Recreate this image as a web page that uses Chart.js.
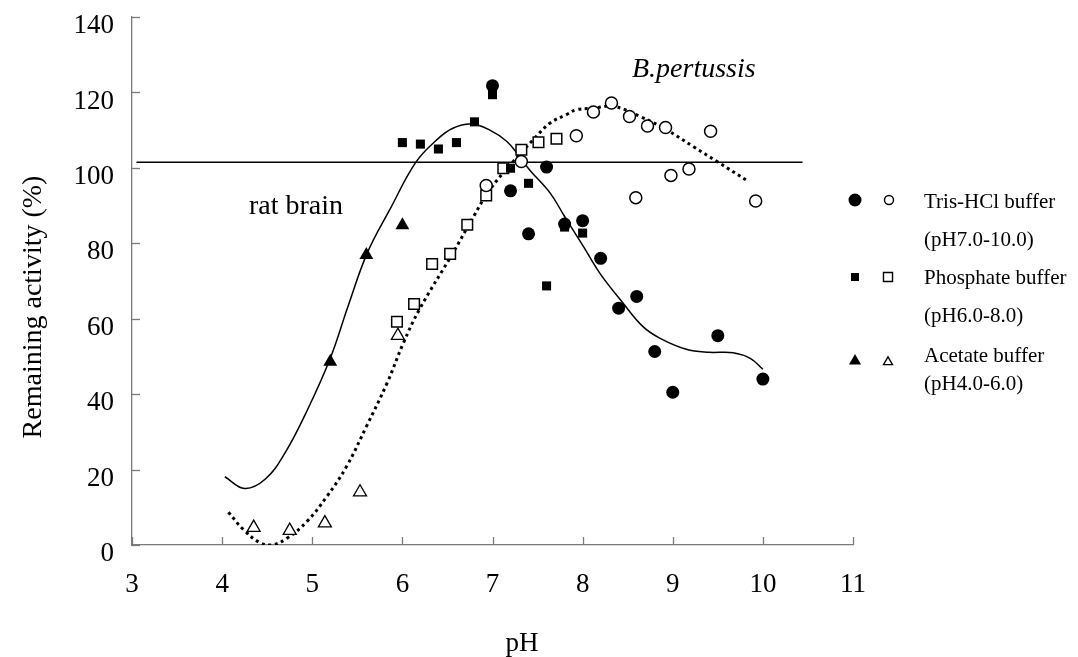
<!DOCTYPE html>
<html>
<head>
<meta charset="utf-8">
<script src="https://cdn.jsdelivr.net/npm/chart.js@4.4.0/dist/chart.umd.min.js"></script>
<style>
html,body{margin:0;padding:0;background:#fff;}
#wrap{width:1078px;height:657px;position:relative;}
</style>
</head>
<body>
<div id="wrap"><canvas id="c"></canvas></div>
<script>
// ---- Data ----
const xTickValues = [3, 4, 5, 6, 7, 8, 9, 10, 11];
const yTickValues = [0, 20, 40, 60, 80, 100, 120, 140];

// Tris-HCl buffer, rat brain (filled circles)
const trisRatPH  = [7.0, 7.2, 7.4, 7.6, 7.8, 8.0, 8.2, 8.4, 8.6, 8.8, 9.0, 9.5, 10.0];
const trisRatAct = [121.8, 93.9, 82.5, 100.2, 85.1, 86.0, 76.0, 62.8, 65.9, 51.3, 40.5, 55.5, 44.0];

// Tris-HCl buffer, B.pertussis (open circles)
const trisPerPH  = [6.93, 7.32, 7.93, 8.12, 8.32, 8.52, 8.59, 8.72, 8.92, 8.98, 9.18, 9.42, 9.92];
const trisPerAct = [95.3, 101.7, 108.5, 114.8, 117.2, 113.6, 92.1, 111.1, 110.7, 98.0, 99.7, 109.7, 91.2];

// Phosphate buffer, rat brain (filled squares)
const phosRatPH  = [6.0, 6.2, 6.4, 6.6, 6.8, 7.0, 7.2, 7.4, 7.6, 7.8, 8.0];
const phosRatAct = [106.7, 106.3, 105.0, 106.7, 112.2, 119.4, 99.9, 95.9, 68.7, 84.3, 82.7];

// Phosphate buffer, B.pertussis (open squares)
const phosPerPH  = [5.94, 6.13, 6.33, 6.53, 6.72, 6.93, 7.12, 7.32, 7.51, 7.71];
const phosPerAct = [59.2, 63.9, 74.5, 77.2, 84.9, 92.7, 99.9, 104.8, 106.8, 107.7];

// Acetate buffer, rat brain (filled triangles)
const acetRatPH  = [5.2, 5.6, 6.0];
const acetRatAct = [48.6, 76.9, 84.8];

// Acetate buffer, B.pertussis (open triangles)
const acetPerPH  = [4.35, 4.75, 5.14, 5.53, 5.95];
const acetPerAct = [4.6, 3.8, 5.8, 14.0, 55.5];

// Fitted curve, rat brain (solid)
const ratCurvePH  = [4.03, 4.25, 4.48, 4.70, 4.95, 5.20, 5.40, 5.61, 5.86, 6.15, 6.38, 6.56, 6.77, 6.97, 7.16, 7.30, 7.41, 7.64, 7.80, 8.01, 8.19, 8.45, 8.67, 8.86, 9.15, 9.40, 9.67, 9.86, 10.0];
const ratCurveAct = [18.1, 15.0, 17.5, 24.5, 36.0, 49.5, 63.5, 77.4, 88.9, 101.5, 107.4, 110.5, 111.6, 110.0, 107.0, 103.0, 99.5, 93.3, 87.1, 79.1, 72.1, 64.1, 57.9, 54.8, 51.9, 51.1, 51.0, 49.5, 46.6];

// Fitted curve, B.pertussis (dotted)
const perCurvePH  = [4.07, 4.24, 4.42, 4.55, 4.72, 4.94, 5.16, 5.38, 5.60, 5.83, 6.01, 6.19, 6.56, 6.79, 6.97, 7.23, 7.45, 7.64, 7.82, 7.93, 8.12, 8.34, 8.64, 8.93, 9.23, 9.49, 9.84];
const perCurveAct = [8.7, 4.0, 0.6, 0, 1.8, 6.2, 12.8, 20.8, 31.4, 42.9, 53.5, 62.5, 77.4, 87.1, 94.2, 101.7, 107.4, 111.9, 114.1, 115.4, 115.8, 116.3, 113.6, 110.1, 105.6, 101.7, 96.4];

// 100 % reference line
const refLinePH  = [3.05, 10.44];
const refLineAct = [101.5, 101.5];

// Text
const xTitle = 'pH';
const yTitle = 'Remaining activity (%)';
const ratLabel = 'rat brain';
const perLabel = 'B.pertussis';
const legendLines = ['Tris-HCl buffer', '(pH7.0-10.0)', 'Phosphate buffer', '(pH6.0-8.0)', 'Acetate buffer', '(pH4.0-6.0)'];

// ---- Build chart ----
const pts = (xs, ys) => xs.map((x, i) => ({x: x, y: ys[i]}));
const SERIF = "'Liberation Serif', 'Times New Roman', serif";
const AXIS = '#7a7a7a';

function marker(style, r, filled, bw) {
  return {
    type: 'scatter', showLine: false, order: 1,
    pointStyle: style, pointRadius: r, pointHoverRadius: r,
    pointBackgroundColor: filled ? '#000' : '#fff',
    pointBorderColor: '#000', pointBorderWidth: filled ? 0 : bw
  };
}

const datasets = [
  Object.assign({label: 'Tris rat', data: pts(trisRatPH, trisRatAct)}, marker('circle', 6.5, true)),
  Object.assign({label: 'Tris per', data: pts(trisPerPH, trisPerAct)}, marker('circle', 6, false, 1.5)),
  Object.assign({label: 'Phos rat', data: pts(phosRatPH, phosRatAct)}, marker('rect', 6.4, true)),
  Object.assign({label: 'Phos per', data: pts(phosPerPH, phosPerAct)}, marker('rect', 7.5, false, 1.5)),
  Object.assign({label: 'Acet rat', data: pts(acetRatPH, acetRatAct)}, marker('triangle', 8, true)),
  Object.assign({label: 'Acet per', data: pts(acetPerPH, acetPerAct)}, marker('triangle', 7.5, false, 1.3)),
  {label: 'rat curve', type: 'scatter', showLine: true, order: 2, data: pts(ratCurvePH, ratCurveAct),
   borderColor: '#000', borderWidth: 1.5, pointRadius: 0, tension: 0.4, fill: false},
  {label: 'per curve', type: 'scatter', showLine: true, order: 2, data: pts(perCurvePH, perCurveAct),
   borderColor: '#000', borderWidth: 3, borderDash: [3, 3.6], borderCapStyle: 'butt', pointRadius: 0,
   tension: 0.4, fill: false},
  {label: 'ref', type: 'scatter', showLine: true, order: 3, data: pts(refLinePH, refLineAct),
   borderColor: '#000', borderWidth: 1.6, pointRadius: 0, tension: 0, fill: false}
];

const decor = {
  id: 'decor',
  afterDraw(chart) {
    const ctx = chart.ctx;
    const xs = chart.scales.x, ys = chart.scales.y;
    const area = chart.chartArea;
    ctx.save();
    // inward tick marks
    ctx.strokeStyle = AXIS; ctx.lineWidth = 1.3;
    xTickValues.forEach(v => {
      const px = Math.round(xs.getPixelForValue(v)) + 0.5;
      ctx.beginPath(); ctx.moveTo(px, area.bottom); ctx.lineTo(px, area.bottom - 8); ctx.stroke();
    });
    yTickValues.forEach(v => {
      const py = Math.round(ys.getPixelForValue(v)) + 0.5;
      ctx.beginPath(); ctx.moveTo(area.left, py); ctx.lineTo(area.left + 8, py); ctx.stroke();
    });
    // axis titles
    ctx.fillStyle = '#000';
    ctx.font = '27px ' + SERIF;
    ctx.textAlign = 'center'; ctx.textBaseline = 'alphabetic';
    ctx.fillText(xTitle, 522, 651);
    ctx.save();
    ctx.font = '28px ' + SERIF;
    ctx.translate(41, 307); ctx.rotate(-Math.PI / 2);
    ctx.fillText(yTitle, 0, 0);
    ctx.restore();
    // annotations
    ctx.textAlign = 'left';
    ctx.font = '28px ' + SERIF;
    ctx.fillText(ratLabel, 249, 214);
    ctx.font = 'italic 28px ' + SERIF;
    ctx.fillText(perLabel, 632, 77);
    // legend
    ctx.font = '21px ' + SERIF;
    const ly = [208, 246, 284, 322, 362, 390];
    legendLines.forEach((t, i) => ctx.fillText(t, 924, ly[i]));
    const H = Chart.helpers;
    const mk = [
      ['circle', 6.5, true, 855, 200], ['circle', 4.5, false, 889, 200],
      ['rect', 5.7, true, 855, 277], ['rect', 6.4, false, 888, 277],
      ['triangle', 7, true, 855, 361], ['triangle', 5.2, false, 888, 362]
    ];
    mk.forEach(m => {
      ctx.fillStyle = m[2] ? '#000' : '#fff';
      ctx.strokeStyle = '#000'; ctx.lineWidth = 1.4;
      H.drawPoint(ctx, {pointStyle: m[0], radius: m[1], rotation: 0, borderWidth: m[2] ? 0 : 1.4}, m[3], m[4]);
    });
    ctx.restore();
  }
};

new Chart(document.getElementById('c'), {
  type: 'scatter',
  data: {datasets: datasets},
  options: {
    responsive: true, maintainAspectRatio: false, animation: false,
    layout: {padding: {top: 17, right: 225, left: 0, bottom: 0}},
    plugins: {legend: {display: false}, tooltip: {enabled: false}},
    scales: {
      x: {
        type: 'linear', min: 3, max: 11,
        afterFit: s => { s.height = 112; s.paddingLeft = 0; s.paddingRight = 0; s.paddingTop = 0; s.paddingBottom = 0; },
        afterBuildTicks: s => { s.ticks = xTickValues.map(v => ({value: v})); },
        grid: {display: false, drawTicks: false},
        border: {display: true, color: AXIS, width: 1.3},
        ticks: {color: '#000', font: {family: SERIF, size: 27}, padding: 24, maxRotation: 0, autoSkip: false}
      },
      y: {
        type: 'linear', min: 0, max: 140,
        afterFit: s => { s.width = 132; s.paddingTop = 0; s.paddingBottom = 0; s.paddingLeft = 0; s.paddingRight = 0; },
        afterBuildTicks: s => { s.ticks = yTickValues.map(v => ({value: v})); },
        grid: {display: false, drawTicks: false},
        border: {display: true, color: AXIS, width: 1.3},
        ticks: {color: '#000', font: {family: SERIF, size: 27}, padding: 18, labelOffset: 9, autoSkip: false}
      }
    }
  },
  plugins: [decor]
});
</script>
</body>
</html>
